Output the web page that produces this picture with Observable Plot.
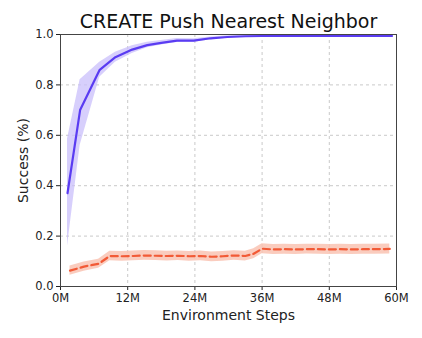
<!DOCTYPE html>
<html><head><meta charset="utf-8">
<script src="https://cdn.jsdelivr.net/npm/d3@7"></script>
<script src="https://cdn.jsdelivr.net/npm/@observablehq/plot@0.6"></script>
<style>body{margin:0;background:#fff;font-family:"DejaVu Sans",sans-serif;}
g[aria-label="x-axis label"] text, g[aria-label="y-axis label"] text{font-size:14px;}</style>
</head><body><div id="chart"></div>
<script>
const title = "CREATE Push Nearest Neighbor";
const xTicks = [0, 12, 24, 36, 48, 60];
const yTicks = [0, 0.2, 0.4, 0.6, 0.8, 1.0];

const blueSteps = [1.25, 3.5, 7, 9.8, 12.8, 15.5, 18, 20.8, 23.8, 26.8, 29.8, 33, 36, 39, 42, 45, 48, 51, 54, 57, 59.2];
const blueMean  = [0.37, 0.70, 0.86, 0.91, 0.94, 0.958, 0.967, 0.976, 0.976, 0.985, 0.99, 0.993, 0.994, 0.994, 0.994, 0.994, 0.994, 0.994, 0.994, 0.994, 0.994];
const blueLo    = [0.16, 0.56, 0.83, 0.89, 0.925, 0.947, 0.958, 0.968, 0.969, 0.979, 0.985, 0.989, 0.99, 0.99, 0.99, 0.99, 0.99, 0.99, 0.99, 0.99, 0.99];
const blueHi    = [0.585, 0.82, 0.89, 0.93, 0.955, 0.969, 0.976, 0.984, 0.983, 0.99, 0.995, 0.997, 0.998, 0.998, 0.998, 0.998, 0.998, 0.998, 0.998, 0.998, 0.998];

const orangeSteps = [1.7, 4.2, 6.8, 8.8, 11, 13, 15, 17, 19, 21, 23, 25, 27, 29, 31, 33, 34.5, 36, 38, 40, 42, 44, 46, 48, 50, 52, 54, 56, 58.8];
const orangeMean  = [0.063, 0.079, 0.09, 0.121, 0.12, 0.121, 0.123, 0.122, 0.121, 0.122, 0.12, 0.121, 0.118, 0.12, 0.123, 0.121, 0.13, 0.15, 0.147, 0.148, 0.147, 0.148, 0.148, 0.147, 0.148, 0.147, 0.148, 0.148, 0.149];
const orangeLo    = [0.045, 0.061, 0.072, 0.102, 0.1, 0.102, 0.104, 0.103, 0.101, 0.103, 0.1, 0.102, 0.098, 0.1, 0.104, 0.101, 0.11, 0.13, 0.127, 0.128, 0.127, 0.129, 0.128, 0.127, 0.128, 0.127, 0.128, 0.128, 0.129];
const orangeHi    = [0.081, 0.097, 0.108, 0.14, 0.139, 0.141, 0.143, 0.142, 0.14, 0.141, 0.139, 0.141, 0.137, 0.139, 0.142, 0.14, 0.15, 0.17, 0.167, 0.168, 0.167, 0.168, 0.168, 0.167, 0.168, 0.167, 0.168, 0.168, 0.169];

const blue = blueSteps.map((s, i) => ({s, m: blueMean[i], lo: blueLo[i], hi: blueHi[i]}));
const orange = orangeSteps.map((s, i) => ({s, m: orangeMean[i], lo: orangeLo[i], hi: orangeHi[i]}));

const chart = Plot.plot({
  width: 422, height: 338,
  marginLeft: 60, marginRight: 26, marginTop: 34, marginBottom: 52,
  style: {fontFamily: "DejaVu Sans, sans-serif", fontSize: "11.5px", color: "#222", background: "#fff"},
  x: {domain: [0, 60], ticks: xTicks, tickFormat: d => d + "M", tickSize: 4, tickPadding: 3,
      label: "Environment Steps", labelAnchor: "center", labelOffset: 33, labelArrow: "none"},
  y: {domain: [0, 1], ticks: yTicks, tickFormat: d3.format(".1f"), tickSize: 4, tickPadding: 3,
      label: "Success (%)", labelAnchor: "center", labelOffset: 42, labelArrow: "none"},
  marks: [
    Plot.gridX(xTicks, {stroke: "#bbb", strokeOpacity: 0.8, strokeDasharray: "3,3"}),
    Plot.gridY(yTicks, {stroke: "#bbb", strokeOpacity: 0.8, strokeDasharray: "3,3"}),
    Plot.areaY(blue, {x: "s", y1: "lo", y2: "hi", fill: "#c9bffb", fillOpacity: 0.75}),
    Plot.areaY(orange, {x: "s", y1: "lo", y2: "hi", fill: "#f9c3b3", fillOpacity: 0.85}),
    Plot.line(blue, {x: "s", y: "m", stroke: "#5a3cf2", strokeWidth: 2.2}),
    Plot.line(orange, {x: "s", y: "m", stroke: "#f25a36", strokeWidth: 2.2, strokeDasharray: "7,4"}),
    Plot.frame({stroke: "#444", strokeWidth: 1}),
    Plot.text([title], {frameAnchor: "top", dy: -20, text: d => d, fontSize: 19, fill: "#111"})
  ]
});
document.getElementById("chart").append(chart);
</script></body></html>
